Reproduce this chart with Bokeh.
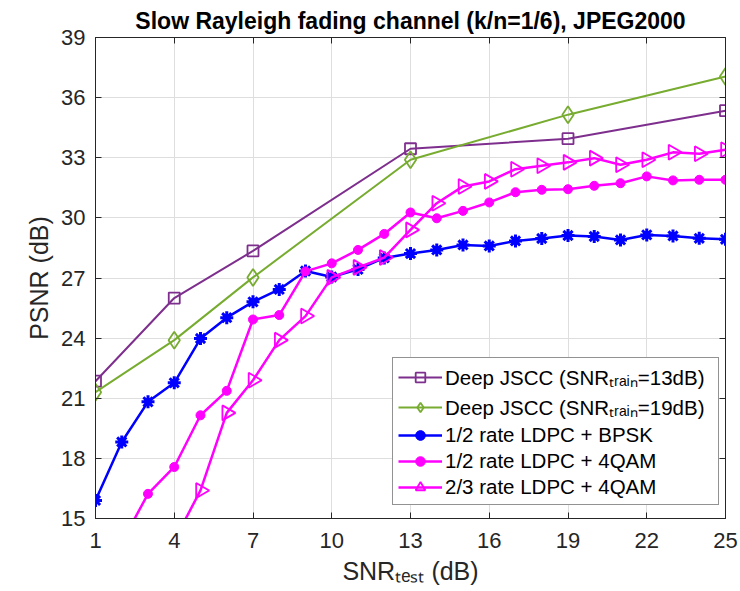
from bokeh.plotting import figure
from bokeh.models import Range1d, FixedTicker, LinearAxis, Legend, LegendItem
from bokeh.embed import file_html
from bokeh.resources import INLINE
import math

# ---- data ----
snr_jscc = [1, 4, 7, 13, 19, 25]
jscc_13 = [21.85, 26.0, 28.35, 33.45, 33.95, 35.35]
jscc_19 = [21.3, 23.9, 27.03, 32.9, 35.15, 37.05]

snr_bpsk = list(range(1, 26))
ldpc12_bpsk = [15.9, 18.82, 20.82, 21.77, 23.98, 25.02, 25.81, 26.43, 27.35, 27.05,
               27.43, 28.0, 28.22, 28.4, 28.65, 28.6, 28.85, 28.97, 29.12, 29.07,
               28.9, 29.15, 29.1, 28.98, 28.93]

snr_qam12 = list(range(2, 26))
ldpc12_4qam = [13.8, 16.23, 17.57, 20.15, 21.37, 24.93, 25.15, 27.33, 27.73, 28.4,
               29.2, 30.27, 29.98, 30.35, 30.77, 31.28, 31.4, 31.43, 31.6, 31.73,
               32.07, 31.87, 31.9, 31.9]

snr_qam23 = list(range(4, 26))
ldpc23_4qam = [13.9, 16.4, 20.27, 21.9, 23.9, 25.1, 27.03, 27.53, 28.02, 29.4,
               30.73, 31.57, 31.82, 32.43, 32.6, 32.77, 32.98, 32.65, 32.9, 33.27,
               33.2, 33.4]

x_ticks = [1, 4, 7, 10, 13, 16, 19, 22, 25]
y_ticks = [15, 18, 21, 24, 27, 30, 33, 36, 39]

title_text = "Slow Rayleigh fading channel (k/n=1/6), JPEG2000"
y_label = "PSNR (dB)"
x_label = "SNR\u209c\u2091\u209b\u209c (dB)"
labels = ["Deep JSCC (SNR\u209c\u1d63\u2090\u1d62\u2099=13dB)",
          "Deep JSCC (SNR\u209c\u1d63\u2090\u1d62\u2099=19dB)",
          "1/2 rate LDPC + BPSK",
          "1/2 rate LDPC + 4QAM",
          "2/3 rate LDPC + 4QAM"]

FONT = "Liberation Sans"
AX = "#262626"

p = figure(frame_width=630, frame_height=481,
           x_range=Range1d(1, 25), y_range=Range1d(15, 39),
           output_backend="svg", toolbar_location=None,
           min_border_left=95, min_border_right=15,
           min_border_top=37, min_border_bottom=73,
           title=title_text)
p.background_fill_color = "white"
p.border_fill_color = "white"
p.outline_line_color = AX
p.outline_line_width = 1

p.title.text_font = FONT
p.title.text_font_size = "23px"
p.title.text_font_style = "bold"
p.title.text_color = "black"
p.title.align = "center"
p.title.standoff = 7
p.title.offset = 0

for ax in (p.xaxis[0], p.yaxis[0]):
    ax.major_label_text_font = FONT
    ax.major_label_text_font_size = "22px"
    ax.major_label_text_color = AX
    ax.axis_label_text_font = FONT
    ax.axis_label_text_font_size = "25px"
    ax.axis_label_text_font_style = "normal"
    ax.axis_label_text_color = AX
    ax.axis_line_color = AX
    ax.major_tick_line_color = AX
    ax.major_tick_in = 6
    ax.major_tick_out = 0
    ax.minor_tick_line_color = None

p.xaxis[0].ticker = FixedTicker(ticks=x_ticks)
p.yaxis[0].ticker = FixedTicker(ticks=y_ticks)
p.xaxis[0].axis_label = x_label
p.yaxis[0].axis_label = y_label
p.xaxis[0].major_label_standoff = 14
p.xaxis[0].axis_label_standoff = 6
p.yaxis[0].major_label_standoff = 10
p.yaxis[0].axis_label_standoff = 5

top = LinearAxis(ticker=FixedTicker(ticks=x_ticks), major_label_text_font_size="1px",
                 major_label_text_color=None,
                 axis_line_color=AX, major_tick_line_color=AX, major_tick_in=6,
                 major_tick_out=0, minor_tick_line_color=None, major_label_standoff=0)
right = LinearAxis(ticker=FixedTicker(ticks=y_ticks), major_label_text_font_size="1px",
                   major_label_text_color=None,
                   axis_line_color=AX, major_tick_line_color=AX, major_tick_in=6,
                   major_tick_out=0, minor_tick_line_color=None, major_label_standoff=0)
p.add_layout(top, "above")
p.add_layout(right, "right")

p.xgrid.ticker = FixedTicker(ticks=x_ticks)
p.ygrid.ticker = FixedTicker(ticks=y_ticks)
p.xgrid.grid_line_color = "#dedede"
p.ygrid.grid_line_color = "#dedede"

purple = "#7E2F8E"
green = "#77AC30"
blue = "#0000FF"
magenta = "#FF00FF"

l1 = p.line(snr_jscc, jscc_13, line_color=purple, line_width=2)
m1 = p.scatter(snr_jscc, jscc_13, marker="square", size=11, line_color=purple,
               line_width=1.8, fill_color="white", fill_alpha=0)
l2 = p.line(snr_jscc, jscc_19, line_color=green, line_width=2)
m2 = p.scatter(snr_jscc, jscc_19, marker="diamond", size=17, line_color=green,
               line_width=1.8, fill_color="white", fill_alpha=0)
l3 = p.line(snr_bpsk, ldpc12_bpsk, line_color=blue, line_width=2.5)
m3 = p.scatter(snr_bpsk, ldpc12_bpsk, marker="asterisk", size=13, line_color=blue,
               line_width=3)
m3b = p.scatter(snr_bpsk, ldpc12_bpsk, marker="circle", size=7, line_color=blue,
                fill_color=blue)
l4 = p.line(snr_qam12, ldpc12_4qam, line_color=magenta, line_width=2.5)
m4 = p.scatter(snr_qam12, ldpc12_4qam, marker="circle", size=9, line_color=magenta,
               fill_color=magenta)
l5 = p.line(snr_qam23, ldpc23_4qam, line_color=magenta, line_width=2.5)
m5 = p.scatter(snr_qam23, ldpc23_4qam, marker="triangle", size=15, angle=-math.pi / 2,
               line_color=magenta, line_width=1.8, fill_color="white", fill_alpha=0)

legend = Legend(items=[LegendItem(label=labels[0], renderers=[l1, m1]),
                       LegendItem(label=labels[1], renderers=[l2, m2]),
                       LegendItem(label=labels[2], renderers=[l3, m3, m3b]),
                       LegendItem(label=labels[3], renderers=[l4, m4]),
                       LegendItem(label=labels[4], renderers=[l5, m5])],
                location=(297, 13))
legend.label_text_font = FONT
legend.label_text_font_size = "20.5px"
legend.label_text_color = "black"
legend.border_line_color = AX
legend.border_line_width = 1
legend.background_fill_color = "white"
legend.background_fill_alpha = 1.0
legend.glyph_width = 44
legend.glyph_height = 24
legend.label_standoff = 3
legend.label_height = 24
legend.label_width = 268
legend.spacing = 2
legend.padding = 5
legend.margin = 0
p.add_layout(legend, "center")

open("out.html", "w").write(file_html(p, INLINE))
